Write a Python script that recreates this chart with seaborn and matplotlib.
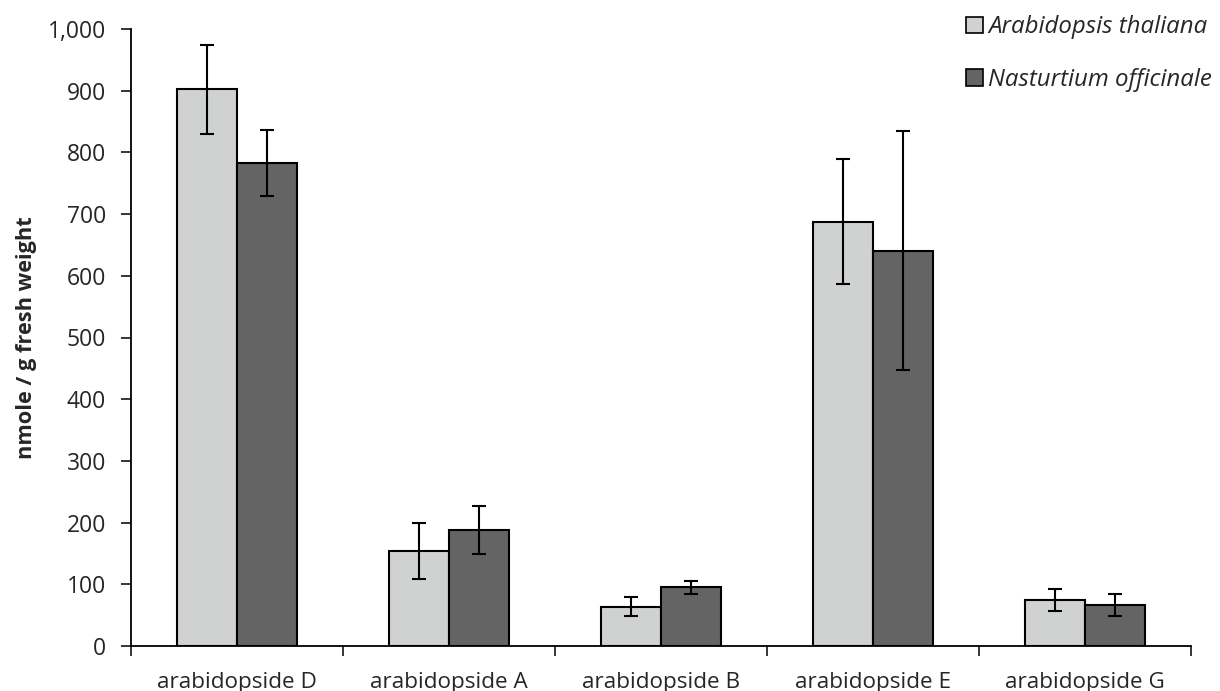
import pandas as pd
import numpy as np
import matplotlib
matplotlib.use('Agg')
import matplotlib.pyplot as plt
import seaborn as sns
from matplotlib.ticker import FuncFormatter
from matplotlib.patches import Patch

# 数据
categories = ['arabidopside D', 'arabidopside A', 'arabidopside B', 'arabidopside E', 'arabidopside G']
species = ['Arabidopsis thaliana', 'Nasturtium officinale']
arabidopsis_mean = [902, 154, 64, 688, 74]
arabidopsis_err = [72, 46, 16, 102, 18]
nasturtium_mean = [783, 188, 95, 641, 67]
nasturtium_err = [54, 39, 11, 194, 18]

colors = ['#D0D2D1', '#646464']

df = pd.DataFrame({
    'compound': categories * 2,
    'species': [species[0]] * 5 + [species[1]] * 5,
    'value': arabidopsis_mean + nasturtium_mean,
    'err': arabidopsis_err + nasturtium_err,
})

sns.set_style('white')
plt.rcParams['font.family'] = ['Open Sans', 'DejaVu Sans']

fig = plt.figure(figsize=(12.2, 6.91), dpi=100)
ax = fig.add_axes([131 / 1220, 1 - 646 / 691, 1060 / 1220, 617 / 691])

sns.barplot(data=df, x='compound', y='value', hue='species', order=categories,
            hue_order=species, palette=colors, width=0.57, edgecolor='black',
            linewidth=1.5, errorbar=None, legend=False, ax=ax, saturation=1)

# 误差线
for i, sp in enumerate(species):
    sub = df[df['species'] == sp].set_index('compound').loc[categories]
    bars = ax.containers[i]
    xs = [b.get_x() + b.get_width() / 2 for b in bars]
    ax.errorbar(xs, sub['value'], yerr=sub['err'], fmt='none', ecolor='black',
                elinewidth=1.5, capsize=5, capthick=1.5, zorder=5)

ax.set_ylim(0, 1000)
ax.set_xlim(-0.5, len(categories) - 0.5)
ax.set_yticks(np.arange(0, 1001, 100))
ax.yaxis.set_major_formatter(FuncFormatter(lambda v, p: f'{int(v):,}'))
ax.set_xticks(np.arange(-0.5, len(categories) + 0.5, 1), minor=False)
ax.set_xticklabels([])
ax.set_xticks(np.arange(len(categories)), minor=True)
ax.set_xticklabels(categories, minor=True)
ax.tick_params(axis='x', which='minor', length=0, labelsize=16.2, pad=19)
ax.tick_params(axis='x', which='major', length=7, width=1.3, direction='out')
ax.tick_params(axis='y', length=7, width=1.3, direction='out', labelsize=16.5, pad=11)
ax.tick_params(bottom=True, left=True)

for s in ['top', 'right']:
    ax.spines[s].set_visible(False)
for s in ['left', 'bottom']:
    ax.spines[s].set_linewidth(1.3)
    ax.spines[s].set_color('black')

ax.set_xlabel('')
ax.set_ylabel('nmole / g fresh weight', fontsize=15.7, fontweight='bold', labelpad=8)

# 图例
handles = [Patch(facecolor=c, edgecolor='black', linewidth=1.2) for c in colors]
leg = fig.legend(handles, species, loc='upper right', bbox_to_anchor=(1.011, 1.009),
                 frameon=False, handlelength=0.7, handleheight=0.7, handletextpad=0.2,
                 labelspacing=1.2, prop={'style': 'italic', 'size': 17.3})

fig.savefig('out.png', dpi=100)
